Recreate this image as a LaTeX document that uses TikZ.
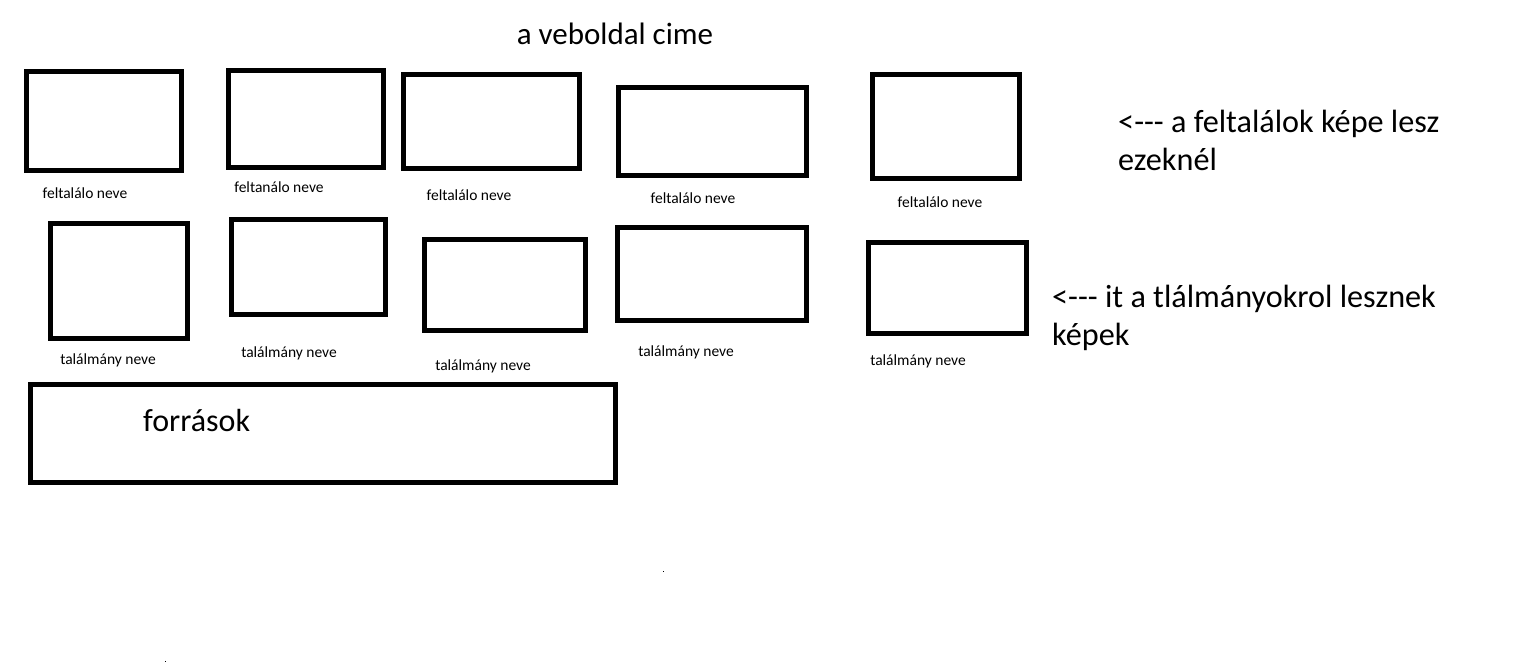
\documentclass[tikz,border=0pt]{standalone}
\usepackage{fontspec}
\setmainfont{Carlito}
\begin{document}
\begin{tikzpicture}[x=1pt,y=-1pt,
  pic/.style={draw=black,line width=5pt,rectangle,inner sep=0pt,outer sep=0pt},
  lbl/.style={inner sep=0pt,font=\fontsize{15.5}{18}\selectfont},
  big/.style={inner sep=0pt,font=\fontsize{32.2}{38}\selectfont,align=left}]
\useasboundingbox[fill=white] (0,0) rectangle (1515,671);
\node[inner sep=0pt,font=\fontsize{31}{36}\selectfont,anchor=base] (title) at (615,45) {a veboldal cime};
% row 1
\node[pic,minimum width=155pt,minimum height=99pt] (b1) at (104,121) {};
\node[pic,minimum width=155pt,minimum height=97pt] (b2) at (306,119) {};
\node[pic,minimum width=176pt,minimum height=94pt] (b3) at (491.5,121.5) {};
\node[pic,minimum width=188pt,minimum height=88pt] (b4) at (712.5,131.5) {};
\node[pic,minimum width=147pt,minimum height=104pt] (b5) at (946,126.5) {};
\node[lbl] (l1) at (85,193) {feltalálo neve};
\node[lbl] (l2) at (279,187) {feltanálo neve};
\node[lbl] (l3) at (469,195) {feltalálo neve};
\node[lbl] (l4) at (693,198) {feltalálo neve};
\node[lbl] (l5) at (940,202) {feltalálo neve};
% row 2
\node[pic,minimum width=137pt,minimum height=115pt] (c1) at (119,281) {};
\node[pic,minimum width=154pt,minimum height=95pt] (c2) at (308.5,267) {};
\node[pic,minimum width=161pt,minimum height=91pt] (c3) at (505,285) {};
\node[pic,minimum width=189pt,minimum height=93pt] (c4) at (712,274) {};
\node[pic,minimum width=158pt,minimum height=91pt] (c5) at (947.5,288) {};
\node[lbl] (m1) at (108,360) {találmány neve};
\node[lbl] (m2) at (289,353) {találmány neve};
\node[lbl] (m3) at (483,366) {találmány neve};
\node[lbl] (m4) at (686,352) {találmány neve};
\node[lbl] (m5) at (918,361) {találmány neve};
% sources
\node[pic,minimum width=585pt,minimum height=98pt] (src) at (323,433.5) {};
\node[inner sep=0pt,font=\fontsize{32}{36}\selectfont,anchor=base west] (srct) at (143,431) {források};
% notes
\node[big,anchor=base west] (n1) at (1118,133) {<{-}{-}{-} a feltalálok képe lesz};
\node[big,anchor=base west] (n1b) at (1118,171) {ezeknél};
\node[big,anchor=base west] (n2) at (1052,307) {<{-}{-}{-} it a tlálmányokrol lesznek};
\node[big,anchor=base west] (n2b) at (1052,345) {képek};
% stray dots
\fill (663,571) rectangle (664,572);
\fill (165,661) rectangle (166,662);
\end{tikzpicture}
\end{document}
